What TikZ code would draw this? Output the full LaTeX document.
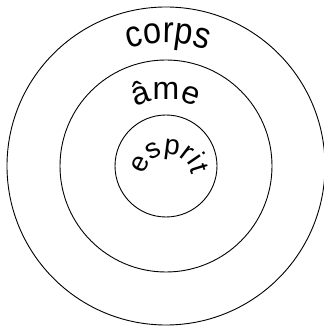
\documentclass[tikz,border=0pt]{standalone}
\usepackage{fontspec}
\setmainfont{Liberation Sans}
\newfontfamily\corpsfont[FakeStretch=0.88]{Liberation Sans}
\usetikzlibrary{decorations.text}
\begin{document}
\begin{tikzpicture}[x=1pt,y=1pt,
  ring/.style={draw=black,line width=0.9pt},
  arctext/.style={decorate,decoration={text along path,text align=center,text format delimiters={|}{|},#1}}]
\useasboundingbox (0,0) rectangle (324,327);
\coordinate (C) at (166,161);
\coordinate (E) at (168,149);
\draw[ring] (C) circle[radius=159];
\draw[ring] (C) circle[radius=106];
\draw[ring] (C) circle[radius=51];
\path[arctext={text={|\corpsfont\fontsize{37}{40}\selectfont|corps}}]
  (C) ++(159:123) arc[start angle=159,end angle=19,radius=123];
\path[arctext={text={|\fontsize{32}{36}\selectfont|âme}}]
  (C) ++(160:66) arc[start angle=160,end angle=20,radius=66];
\path[arctext={text={|\fontsize{28}{32}\selectfont|esprit}}]
  (E) ++(178:24) arc[start angle=178,end angle=2,radius=24];
\end{tikzpicture}
\end{document}
